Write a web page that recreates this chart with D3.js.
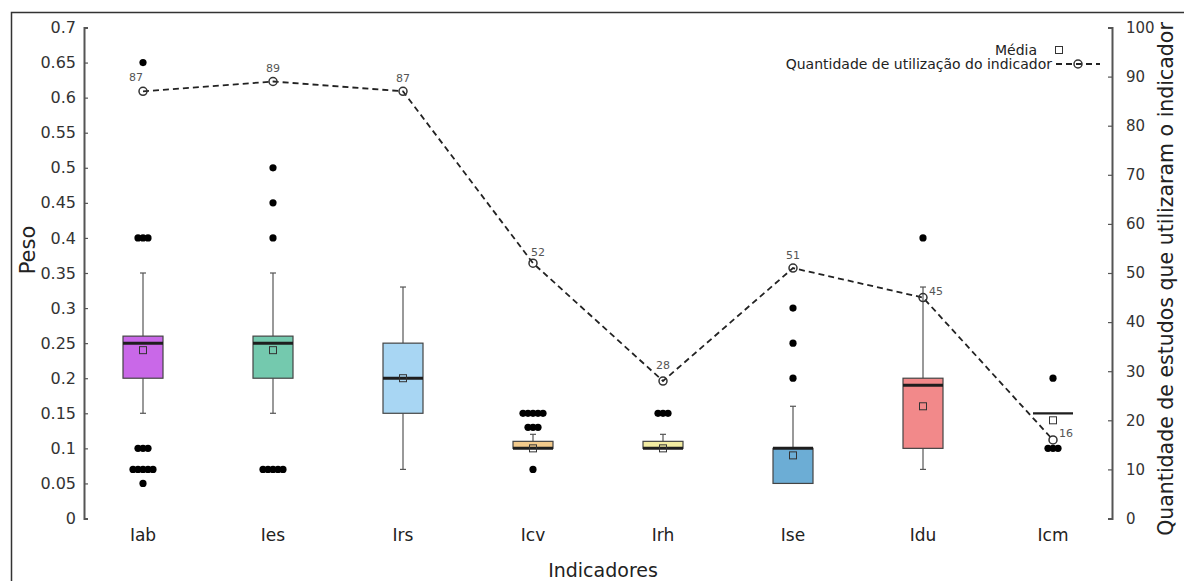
<!DOCTYPE html>
<html>
<head>
<meta charset="utf-8">
<script src="https://cdn.jsdelivr.net/npm/d3@7"></script>
<style>
  html, body { margin: 0; padding: 0; background: #fff; }
  svg { display: block; font-family: "DejaVu Sans", Verdana, sans-serif; }
</style>
</head>
<body>
<svg id="chart" width="1184" height="581"></svg>
<script>
// Indicators and their weight distributions
const categories = ["Iab", "Ies", "Irs", "Icv", "Irh", "Ise", "Idu", "Icm"];
const q1         = [0.20, 0.20, 0.15, 0.10, 0.10, 0.05, 0.10, 0.15];
const medians    = [0.25, 0.25, 0.20, 0.10, 0.10, 0.10, 0.19, 0.15];
const q3         = [0.26, 0.26, 0.25, 0.11, 0.11, 0.10, 0.20, 0.15];
const whiskerLow = [0.15, 0.15, 0.07, 0.10, 0.10, 0.05, 0.07, 0.15];
const whiskerHigh= [0.35, 0.35, 0.33, 0.12, 0.12, 0.16, 0.33, 0.15];
const means      = [0.24, 0.24, 0.20, 0.10, 0.10, 0.09, 0.16, 0.14];
const boxColors  = ["#c968e8", "#74c9ae", "#a8d6f3", "#f3cb8c", "#f2eca2", "#6cadd5", "#f2898a", "none"];
const outliers   = [
  [0.65, 0.40, 0.40, 0.40, 0.10, 0.10, 0.10, 0.07, 0.07, 0.07, 0.07, 0.07, 0.05],
  [0.50, 0.45, 0.40, 0.07, 0.07, 0.07, 0.07, 0.07],
  [],
  [0.15, 0.15, 0.15, 0.15, 0.15, 0.13, 0.13, 0.13, 0.07],
  [0.15, 0.15, 0.15],
  [0.30, 0.25, 0.20],
  [0.40],
  [0.20, 0.10, 0.10, 0.10]
];
// Number of studies using each indicator
const usageCounts = [87, 89, 87, 52, 28, 51, 45, 16];

const weightTicks = d3.range(0, 0.7001, 0.05).map(v => +v.toFixed(2));
const countTicks  = d3.range(0, 101, 10);

const svg = d3.select("#chart");

// Outer frame
svg.append("rect")
  .attr("x", 11.5).attr("y", 12.5)
  .attr("width", 1300).attr("height", 700)
  .attr("fill", "none").attr("stroke", "#333").attr("stroke-width", 1.5);

const x = d3.scalePoint().domain(categories).range([143, 1053]);
const y = d3.scaleLinear().domain([0, 0.7]).range([518.5, 27.5]);
const yR = d3.scaleLinear().domain([0, 100]).range([518.5, 27.5]);

const axisX = 84, axisXR = 1112;

// Left axis
const leftAxis = svg.append("g")
  .attr("transform", `translate(${axisX},0)`)
  .call(d3.axisRight(y).tickValues(weightTicks).tickSize(4).tickFormat(d => String(d)));
leftAxis.select(".domain").attr("stroke", "#555").attr("stroke-width", 2);
leftAxis.selectAll(".tick line").attr("stroke", "#555").attr("stroke-width", 1.2);
leftAxis.selectAll(".tick text")
  .attr("x", -8).attr("text-anchor", "end")
  .attr("font-size", 16).attr("fill", "#333")
  .attr("font-family", "DejaVu Sans, sans-serif");

// Right axis
const rightAxis = svg.append("g")
  .attr("transform", `translate(${axisXR},0)`)
  .call(d3.axisLeft(yR).tickValues(countTicks).tickSize(4));
rightAxis.select(".domain").attr("stroke", "#555").attr("stroke-width", 2);
rightAxis.selectAll(".tick line").attr("stroke", "#555").attr("stroke-width", 1.2);
rightAxis.selectAll(".tick text")
  .attr("x", 14).attr("text-anchor", "start")
  .attr("font-size", 15).attr("fill", "#333")
  .attr("font-family", "DejaVu Sans, sans-serif");

// Axis titles
svg.append("text")
  .attr("transform", "translate(28,250) rotate(-90)")
  .attr("text-anchor", "middle").attr("dominant-baseline", "central")
  .attr("font-size", 21).attr("fill", "#222").text("Peso");

svg.append("text")
  .attr("transform", "translate(1166,279) rotate(-90)")
  .attr("text-anchor", "middle").attr("dominant-baseline", "central")
  .attr("font-size", 20.5).attr("fill", "#222")
  .text("Quantidade de estudos que utilizaram o indicador");

// Category labels
svg.append("g").selectAll("text")
  .data(categories).join("text")
  .attr("x", d => x(d)).attr("y", 535)
  .attr("text-anchor", "middle").attr("dominant-baseline", "central")
  .attr("font-size", 17).attr("fill", "#222")
  .text(d => d);

svg.append("text")
  .attr("x", (x("Irh") + x("Icv")) / 2 + 5).attr("y", 570)
  .attr("text-anchor", "middle").attr("dominant-baseline", "central")
  .attr("font-size", 19).attr("fill", "#222").text("Indicadores");

// Box plots
const boxW = 40, capW = 6;
const boxes = svg.append("g");
categories.forEach((c, i) => {
  const cx = x(c);
  const g = boxes.append("g");
  // whiskers
  if (whiskerHigh[i] > q3[i]) {
    g.append("line").attr("x1", cx).attr("x2", cx)
      .attr("y1", y(q3[i])).attr("y2", y(whiskerHigh[i]))
      .attr("stroke", "#555").attr("stroke-width", 1.2);
    g.append("line").attr("x1", cx - capW / 2).attr("x2", cx + capW / 2)
      .attr("y1", y(whiskerHigh[i])).attr("y2", y(whiskerHigh[i]))
      .attr("stroke", "#555").attr("stroke-width", 1.2);
  }
  if (whiskerLow[i] < q1[i]) {
    g.append("line").attr("x1", cx).attr("x2", cx)
      .attr("y1", y(q1[i])).attr("y2", y(whiskerLow[i]))
      .attr("stroke", "#555").attr("stroke-width", 1.2);
    g.append("line").attr("x1", cx - capW / 2).attr("x2", cx + capW / 2)
      .attr("y1", y(whiskerLow[i])).attr("y2", y(whiskerLow[i]))
      .attr("stroke", "#555").attr("stroke-width", 1.2);
  }
  // box
  if (q3[i] > q1[i]) {
    g.append("rect")
      .attr("x", cx - boxW / 2).attr("y", y(q3[i]))
      .attr("width", boxW).attr("height", y(q1[i]) - y(q3[i]))
      .attr("fill", boxColors[i]).attr("stroke", "#444").attr("stroke-width", 1.2);
  }
  // median
  g.append("line")
    .attr("x1", cx - boxW / 2).attr("x2", cx + boxW / 2)
    .attr("y1", y(medians[i])).attr("y2", y(medians[i]))
    .attr("stroke", "#1e1e1e").attr("stroke-width", q3[i] > q1[i] ? 3 : 2.2);
  // mean
  g.append("rect")
    .attr("x", cx - 3.5).attr("y", y(means[i]) - 3.5)
    .attr("width", 7).attr("height", 7)
    .attr("fill", "none").attr("stroke", "#333").attr("stroke-width", 1);
  // outliers, repeated values spread sideways
  const groups = d3.groups(outliers[i], v => v);
  groups.forEach(([v, vals]) => {
    const n = vals.length, step = 5;
    vals.forEach((_, k) => {
      g.append("circle")
        .attr("cx", cx + (k - (n - 1) / 2) * step)
        .attr("cy", y(v)).attr("r", 3.6)
        .attr("fill", "#000");
    });
  });
});

// Usage line on the right axis
const lineGen = d3.line().x((d, i) => x(categories[i])).y(d => yR(d));
svg.append("path")
  .datum(usageCounts)
  .attr("d", lineGen)
  .attr("fill", "none").attr("stroke", "#222")
  .attr("stroke-width", 1.8).attr("stroke-dasharray", "6,4");

svg.append("g").selectAll("circle")
  .data(usageCounts).join("circle")
  .attr("cx", (d, i) => x(categories[i])).attr("cy", d => yR(d))
  .attr("r", 4).attr("fill", "none").attr("stroke", "#333").attr("stroke-width", 1.5);

// Value labels on the usage line
const labelOffsets = [[-7, -14], [0, -13], [0, -13], [5, -11], [0, -16], [0, -13], [13, -6], [13, -6]];
const labelAnchor  = ["middle", "middle", "middle", "middle", "middle", "middle", "start", "start"];
svg.append("g").selectAll("text")
  .data(usageCounts).join("text")
  .attr("x", (d, i) => x(categories[i]) + labelOffsets[i][0] - (labelAnchor[i] === "start" ? 7 : 0))
  .attr("y", (d, i) => yR(d) + labelOffsets[i][1])
  .attr("text-anchor", (d, i) => labelAnchor[i])
  .attr("dominant-baseline", "central")
  .attr("font-size", 11).attr("fill", "#555")
  .text(d => d);

// Legend
const legend = svg.append("g");
legend.append("text")
  .attr("x", 1037).attr("y", 50)
  .attr("text-anchor", "end").attr("dominant-baseline", "central")
  .attr("font-size", 14).attr("fill", "#222").text("Média");
legend.append("rect")
  .attr("x", 1059 - 3.5).attr("y", 50 - 3.5)
  .attr("width", 7).attr("height", 7)
  .attr("fill", "none").attr("stroke", "#333").attr("stroke-width", 1);
legend.append("text")
  .attr("x", 1052).attr("y", 64)
  .attr("text-anchor", "end").attr("dominant-baseline", "central")
  .attr("font-size", 14).attr("fill", "#222").text("Quantidade de utilização do indicador");
legend.append("line")
  .attr("x1", 1056).attr("x2", 1100).attr("y1", 64).attr("y2", 64)
  .attr("stroke", "#222").attr("stroke-width", 1.8).attr("stroke-dasharray", "6,4");
legend.append("circle")
  .attr("cx", 1078).attr("cy", 64).attr("r", 4)
  .attr("fill", "none").attr("stroke", "#333").attr("stroke-width", 1.5);
</script>
</body>
</html>
